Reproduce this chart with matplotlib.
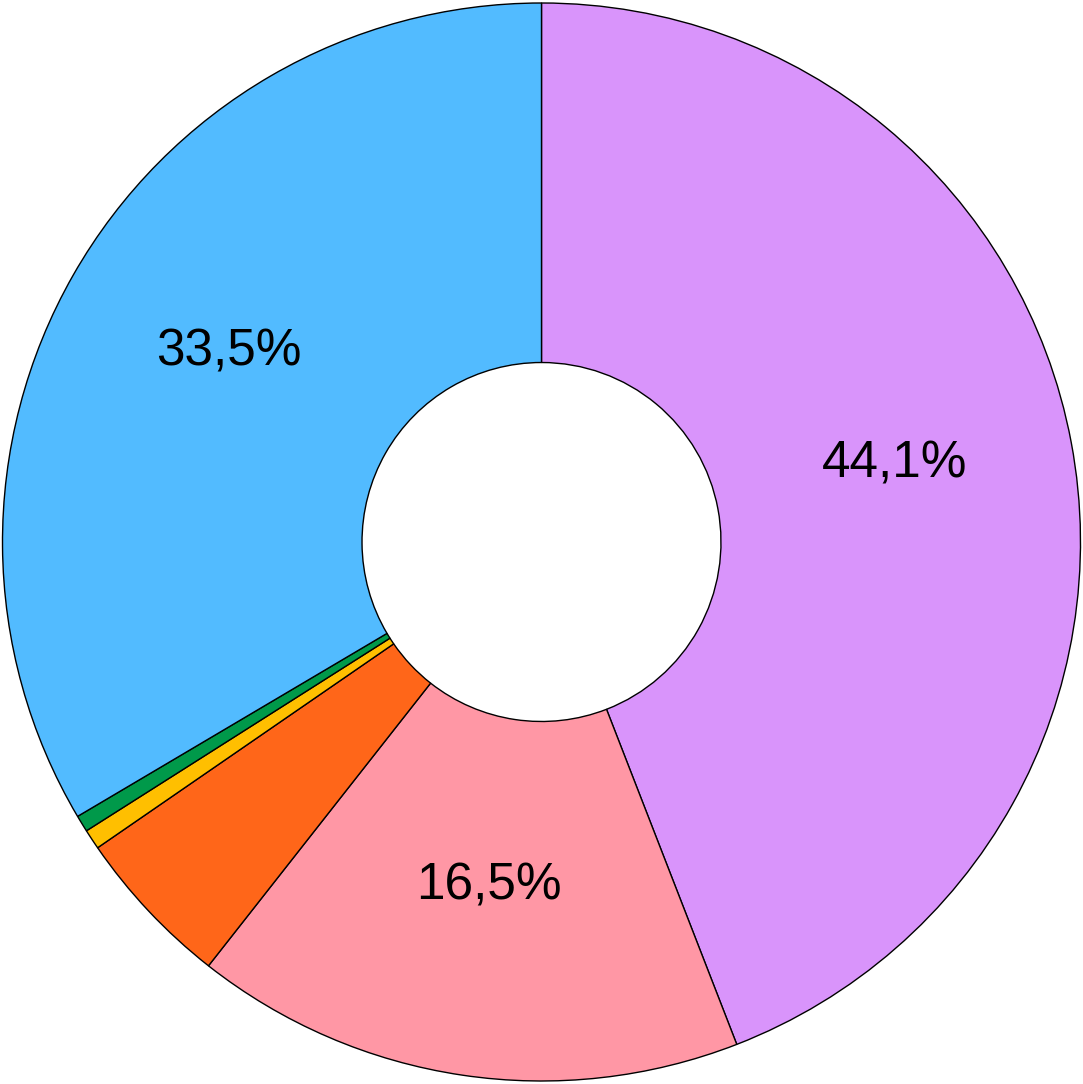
import matplotlib.pyplot as plt

# slice values (percent), clockwise from top
values = [44.1, 16.5, 4.8, 0.6, 0.5, 33.5]
colors = ['#D994FB', '#FF97A5', '#FF6619', '#FFBF00', '#00994A', '#52BBFF']

def fmt_pct(p):
    if p < 10:
        return ''
    return f'{p:.1f}%'.replace('.', ',')

fig = plt.figure(figsize=(10.83, 10.84), dpi=100)
ax = fig.add_axes([0, 0, 1, 1])

wedges, texts, autotexts = ax.pie(
    values, colors=colors, startangle=90, counterclock=False,
    autopct=fmt_pct, pctdistance=0.667, radius=1.0,
    wedgeprops=dict(width=0.667, edgecolor='black', linewidth=1.0),
    textprops=dict(fontsize=37, family='Liberation Sans', color='black'),
)

# labels sit a little higher than the ring middle in the original
for t in autotexts:
    x, y = t.get_position()
    t.set_position((x, y + 0.022))

lim = 541.5 / 539
ax.set_xlim(-lim, lim)
ax.set_ylim(-lim, lim)
ax.set_aspect('equal')
ax.axis('off')

fig.savefig('out.png', dpi=100)
